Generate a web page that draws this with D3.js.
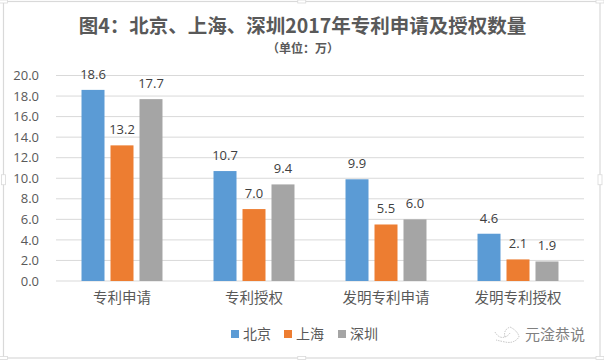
<!DOCTYPE html>
<html>
<head>
<meta charset="utf-8">
<script src="https://cdn.jsdelivr.net/npm/d3@7"></script>
<style>
html, body { margin: 0; padding: 0; background: #fff; }
svg { display: block; }
text { font-family: "Noto Sans CJK SC", "Noto Sans", sans-serif; }
.num { font-family: "Open Sans", "Noto Sans", sans-serif; }
</style>
</head>
<body>
<div id="chart"></div>
<script>
var categories = ["专利申请", "专利授权", "发明专利申请", "发明专利授权"];
var seriesNames = ["北京", "上海", "深圳"];
var beijing = [18.6, 10.7, 9.9, 4.6];
var shanghai = [13.2, 7.0, 5.5, 2.1];
var shenzhen = [17.7, 9.4, 6.0, 1.9];
var yTicks = [0, 2, 4, 6, 8, 10, 12, 14, 16, 18, 20];
var colors = ["#5b9bd5", "#ed7d31", "#a5a5a5"];

var seriesValues = [beijing, shanghai, shenzhen];

var width = 604, height = 360;
var margin = {top: 75.5, right: 20, bottom: 79, left: 56};
var plotW = width - margin.left - margin.right,
    plotH = height - margin.top - margin.bottom;

var svg = d3.select("#chart").append("svg")
    .attr("width", width)
    .attr("height", height);

// chart frame from the original screenshot
var frame = {x: 3.5, y: 1.5, w: 596.5, h: 356.5};
svg.append("rect")
    .attr("x", frame.x).attr("y", frame.y)
    .attr("width", frame.w).attr("height", frame.h)
    .style("fill", "#fff")
    .style("stroke", "#d9d9d9")
    .style("stroke-width", 1.2);

// selection handles on the frame: corners and edge midpoints
var handles = [
  [0, 0], [0.5, 0], [1, 0],
  [0, 0.5], [1, 0.5],
  [0, 1], [0.5, 1], [1, 1]
];
svg.append("g")
    .selectAll("rect")
    .data(handles)
  .enter().append("rect")
    .attr("x", function(d) { return frame.x + d[0] * frame.w - (d[1] === 0.5 ? 2 : 4); })
    .attr("y", function(d) { return frame.y + d[1] * frame.h - (d[1] === 0.5 ? 5 : 1.5); })
    .attr("width", function(d) { return d[1] === 0.5 ? 4 : 8; })
    .attr("height", function(d) { return d[1] === 0.5 ? 10 : 3; })
    .style("fill", "#fff")
    .style("stroke", "#d9d9d9")
    .style("stroke-width", 0.8);

var g = svg.append("g")
    .attr("transform", "translate(" + margin.left + "," + margin.top + ")");

var x0 = d3.scaleBand()
    .domain(categories)
    .range([0, plotW]);
var x1 = d3.scaleBand()
    .domain(seriesNames)
    .range([0, x0.bandwidth()])
    .paddingInner(0.207)
    .paddingOuter(0.88);
var y = d3.scaleLinear()
    .domain([0, 20])
    .range([plotH, 0]);

// gridlines
g.append("g")
    .selectAll("line")
    .data(yTicks)
  .enter().append("line")
    .attr("x1", 0)
    .attr("x2", plotW)
    .attr("y1", function(d) { return y(d); })
    .attr("y2", function(d) { return y(d); })
    .style("stroke", "#d9d9d9")
    .style("stroke-width", 1);

// y axis
var yAxis = g.append("g")
    .call(d3.axisLeft(y).tickValues(yTicks).tickSize(0).tickPadding(17)
      .tickFormat(d3.format(".1f")));
yAxis.select(".domain").remove();
yAxis.selectAll("text")
    .attr("class", "num")
    .style("font-size", "13px")
    .style("fill", "#595959");

// x axis
var xAxis = g.append("g")
    .attr("transform", "translate(0," + plotH + ")")
    .call(d3.axisBottom(x0).tickSize(0).tickPadding(12));
xAxis.select(".domain").remove();
xAxis.selectAll("text")
    .style("font-size", "14.5px")
    .style("fill", "#595959");

// bars and value labels
seriesNames.forEach(function(name, s) {
  var series = g.append("g").attr("class", "series");
  series.selectAll("rect")
      .data(seriesValues[s])
    .enter().append("rect")
      .attr("x", function(d, i) { return x0(categories[i]) + x1(name); })
      .attr("width", x1.bandwidth())
      .attr("y", function(d) { return y(d); })
      .attr("height", function(d) { return plotH - y(d); })
      .style("fill", colors[s]);
  series.selectAll("text")
      .data(seriesValues[s])
    .enter().append("text")
      .attr("class", "num")
      .attr("x", function(d, i) { return x0(categories[i]) + x1(name) + x1.bandwidth() / 2; })
      .attr("y", function(d) { return y(d) - 11; })
      .attr("text-anchor", "middle")
      .style("font-size", "13px")
      .style("fill", "#404040")
      .text(d3.format(".1f"));
});

// title
svg.append("text")
    .attr("x", 302.5)
    .attr("y", 32.5)
    .attr("text-anchor", "middle")
    .style("font-size", "19.5px")
    .style("font-weight", "bold")
    .style("fill", "#595959")
    .text("图4：北京、上海、深圳2017年专利申请及授权数量");
svg.append("text")
    .attr("x", 303)
    .attr("y", 53)
    .attr("text-anchor", "middle")
    .style("font-size", "12px")
    .style("font-weight", "bold")
    .style("fill", "#595959")
    .text("（单位：万）");

// legend
var legendX = [231, 284, 338];
seriesNames.forEach(function(name, s) {
  svg.append("rect")
      .attr("x", legendX[s])
      .attr("y", 330)
      .attr("width", 8)
      .attr("height", 8)
      .style("fill", colors[s]);
  svg.append("text")
      .attr("x", legendX[s] + 12)
      .attr("y", 339)
      .style("font-size", "14px")
      .style("fill", "#595959")
      .text(name);
});

// watermark
svg.append("path")
    .attr("d", "M495 332 Q499 339 505 337 Q508 336 510 333 M505 337 Q503 330 510 327 Q518 331 519 337 Q514 344 505 342 Q500 341 496 340")
    .style("fill", "none")
    .style("stroke", "#aaa")
    .style("stroke-width", 0.7)
    .style("stroke-dasharray", "1.5 1");
svg.append("text")
    .attr("x", 525)
    .attr("y", 340)
    .style("font-size", "15px")
    .style("fill", "#808080")
    .text("元淦恭说");
</script>
</body>
</html>
